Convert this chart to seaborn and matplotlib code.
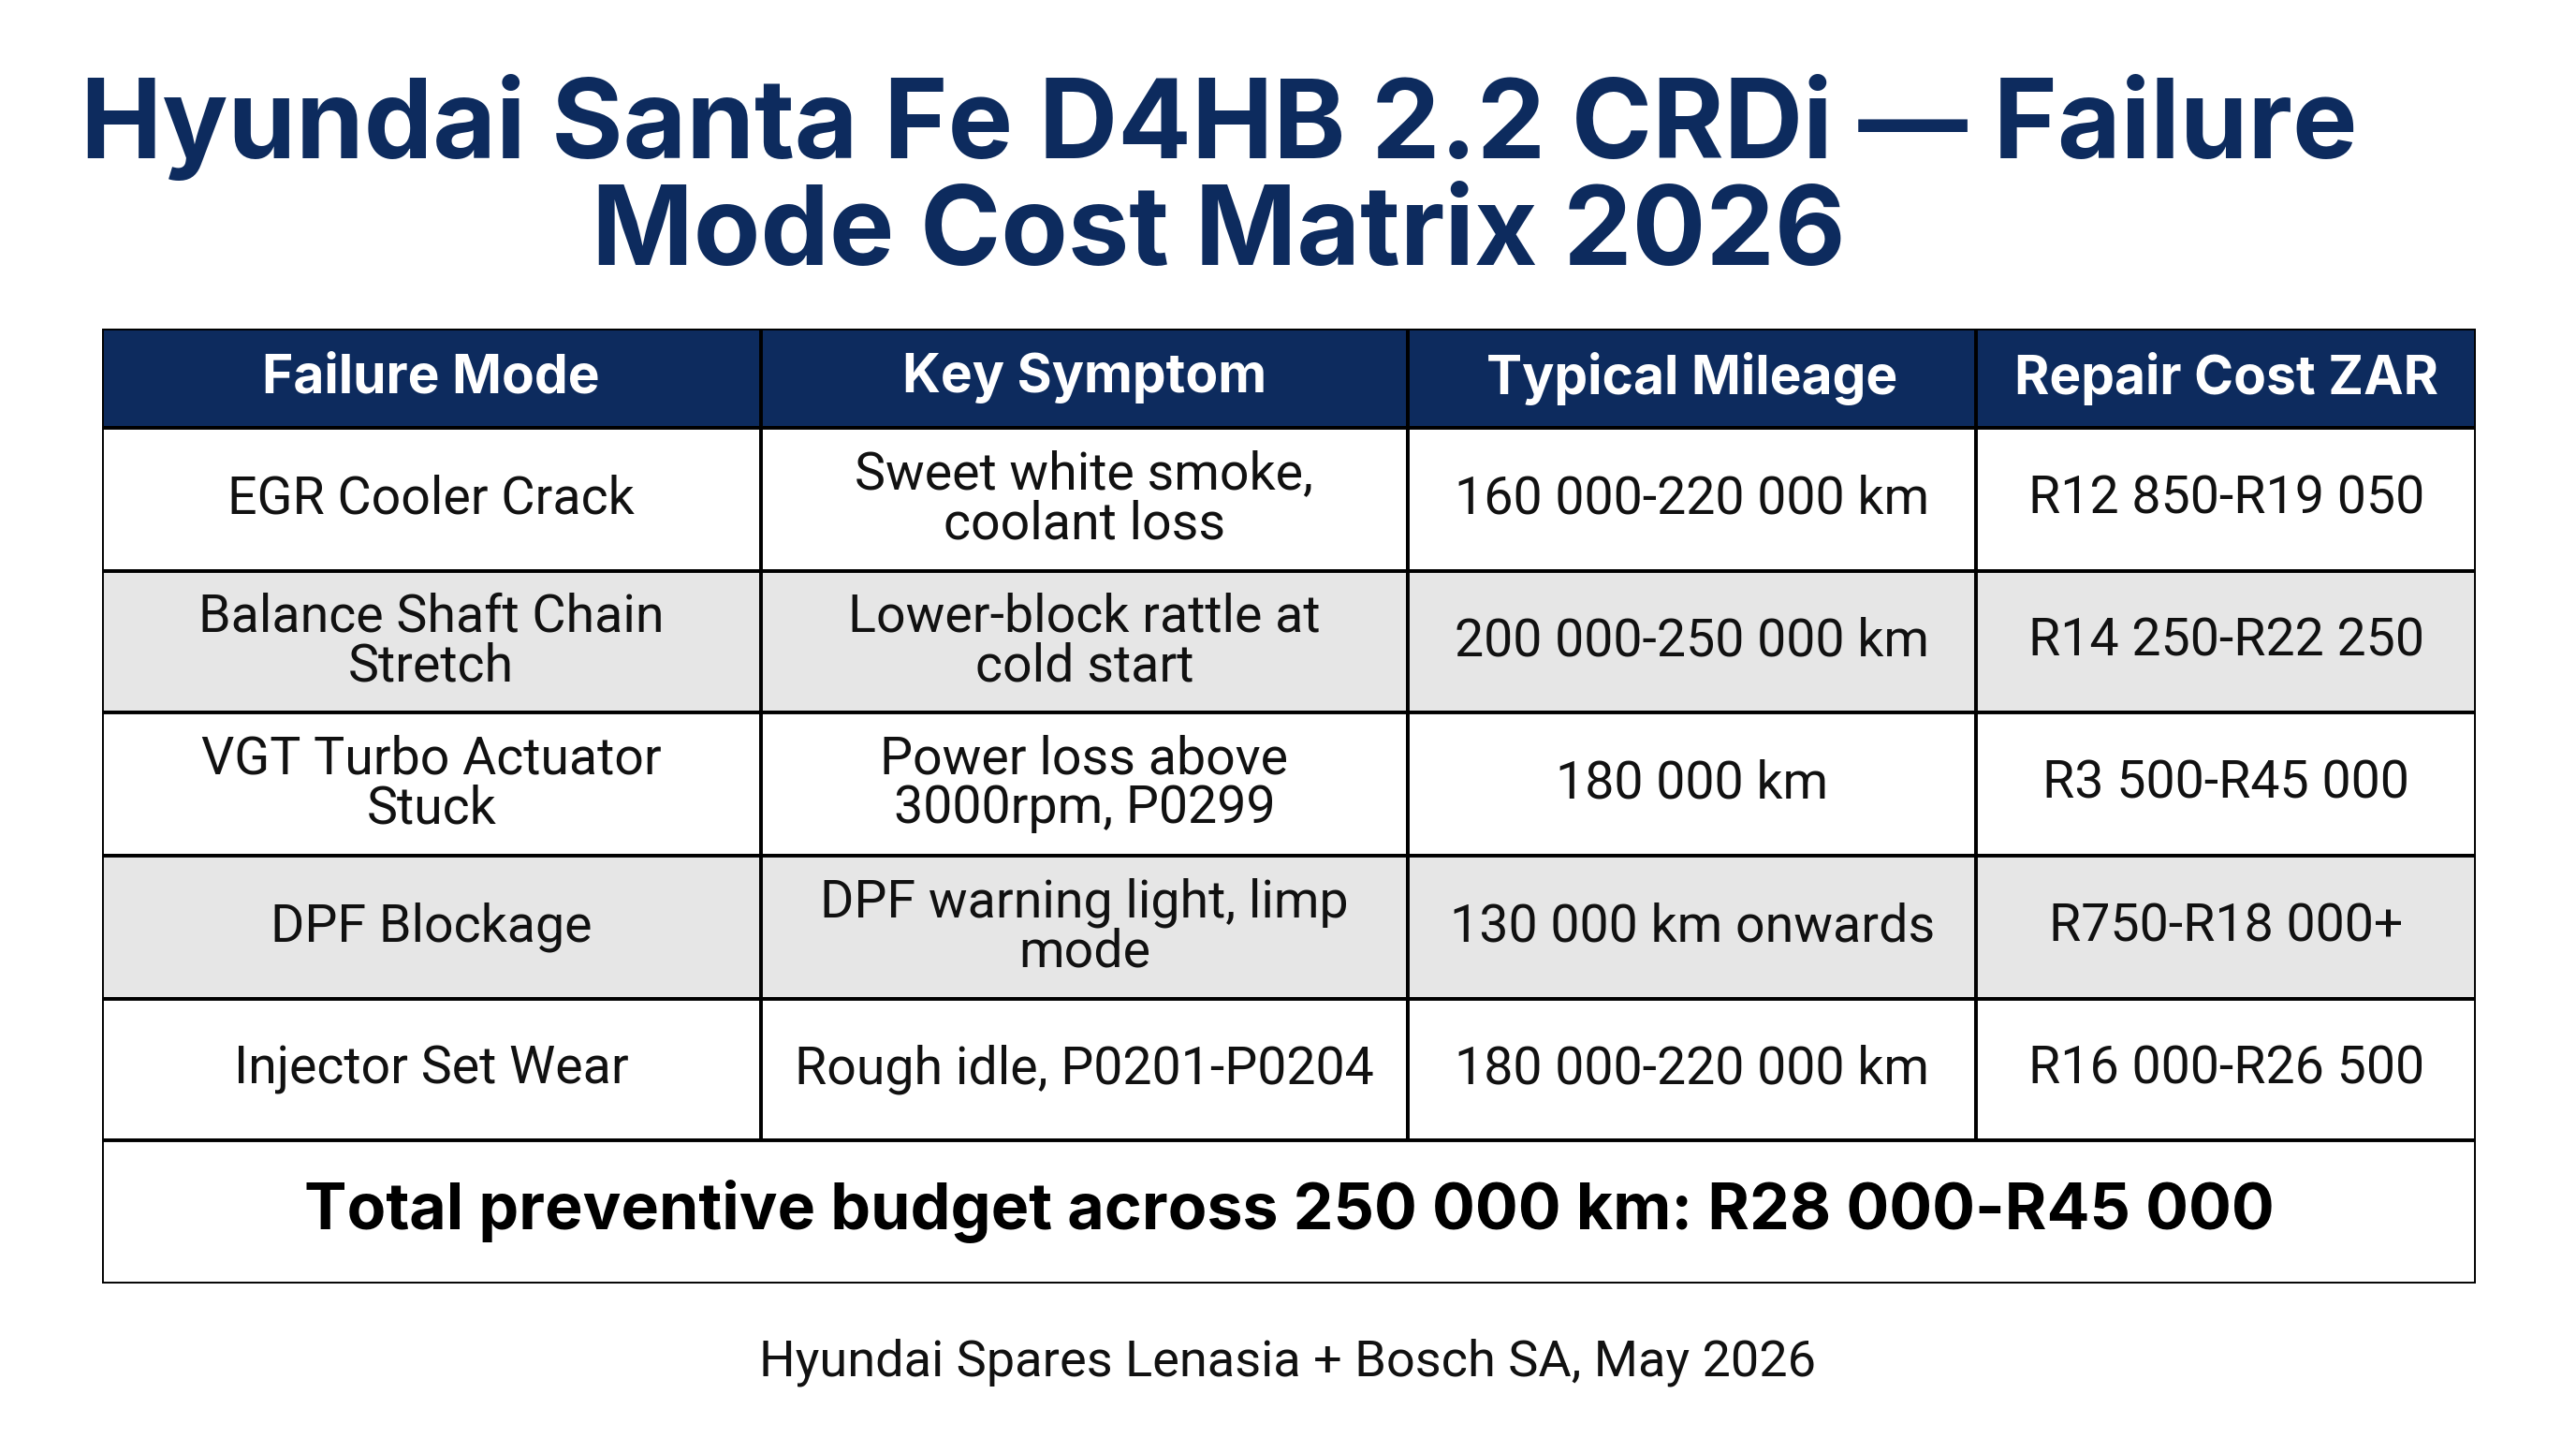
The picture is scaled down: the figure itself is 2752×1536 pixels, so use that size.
import matplotlib
matplotlib.use("Agg")
import matplotlib.pyplot as plt
import seaborn as sns
from matplotlib.patches import Rectangle

sns.set_theme(style="white")
plt.rcParams['font.family'] = ['Inter', 'DejaVu Sans']

title = "Hyundai Santa Fe D4HB 2.2 CRDi — Failure\nMode Cost Matrix 2026"
headers = ["Failure Mode", "Key Symptom", "Typical Mileage", "Repair Cost ZAR"]
failure_modes = ["EGR Cooler Crack", "Balance Shaft Chain\nStretch", "VGT Turbo Actuator\nStuck",
                 "DPF Blockage", "Injector Set Wear"]
symptoms = ["Sweet white smoke,\ncoolant loss", "Lower-block rattle at\ncold start",
            "Power loss above\n3000rpm, P0299", "DPF warning light, limp\nmode", "Rough idle, P0201-P0204"]
mileage = ["160 000-220 000 km", "200 000-250 000 km", "180 000 km", "130 000 km onwards",
           "180 000-220 000 km"]
costs = ["R12 850-R19 050", "R14 250-R22 250", "R3 500-R45 000", "R750-R18 000+", "R16 000-R26 500"]
total_text = "Total preventive budget across 250 000 km: R28 000-R45 000"
source = "Hyundai Spares Lenasia + Bosch SA, May 2026"

NAVY = "#0d2b5e"
W, H = 1568, 874
fig = plt.figure(figsize=(27.52, 15.36), dpi=100)
fig.patch.set_facecolor("white")

fig.text(742 / W, 1 - 110 / H, title, ha="center", va="center", fontsize=84,
         fontweight="bold", color=NAVY, linespacing=1.05)

x0, x1, y0, y1 = 62, 1507, 200, 780
ax = fig.add_axes([x0 / W, 1 - y1 / H, (x1 - x0) / W, (y1 - y0) / H])
ax.set_xlim(x0, x1)
ax.set_ylim(y1, y0)
ax.axis("off")

col_edges = [62, 463, 857, 1203, 1507]
row_edges = [200, 260, 347, 433, 520, 607, 693, 780]
lw = 2.8

for c in range(4):
    ax.add_patch(Rectangle((col_edges[c], row_edges[0]), col_edges[c + 1] - col_edges[c],
                           row_edges[1] - row_edges[0], facecolor=NAVY, edgecolor="black", lw=lw))
    ax.text((col_edges[c] + col_edges[c + 1]) / 2, (row_edges[0] + row_edges[1]) / 2, headers[c],
            ha="center", va="center", color="white", fontsize=41, fontweight="bold")

cols = [failure_modes, symptoms, mileage, costs]
for r in range(5):
    fc = "#e6e6e6" if r % 2 == 1 else "white"
    top, bot = row_edges[r + 1], row_edges[r + 2]
    for c in range(4):
        ax.add_patch(Rectangle((col_edges[c], top), col_edges[c + 1] - col_edges[c], bot - top,
                               facecolor=fc, edgecolor="black", lw=lw))
        ax.text((col_edges[c] + col_edges[c + 1]) / 2, (top + bot) / 2, cols[c][r],
                ha="center", va="center", color="#111111", fontsize=40, linespacing=1.0,
                family=["Roboto", "DejaVu Sans"])

ax.add_patch(Rectangle((col_edges[0], row_edges[6]), col_edges[-1] - col_edges[0],
                       row_edges[7] - row_edges[6], facecolor="white", edgecolor="black", lw=lw))
ax.text((col_edges[0] + col_edges[-1]) / 2, (row_edges[6] + row_edges[7]) / 2, total_text,
        ha="center", va="center", color="black", fontsize=49, fontweight="bold")

fig.text(784 / W, 1 - 828 / H, source, ha="center", va="center", fontsize=39, color="#111111",
         family=["Roboto", "DejaVu Sans"])

fig.savefig("out.png", dpi=100, facecolor="white")
